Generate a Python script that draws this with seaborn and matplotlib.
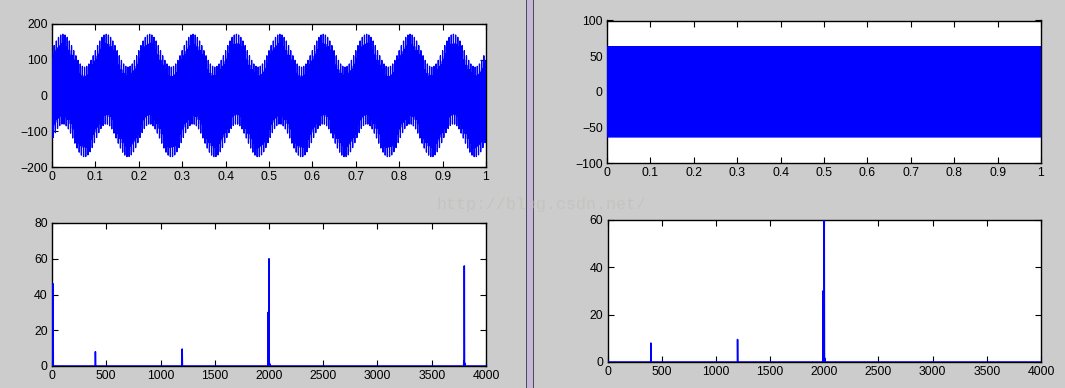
import numpy as np
import pandas as pd
import seaborn as sns
import matplotlib
matplotlib.use("Agg")
import matplotlib.pyplot as plt
from matplotlib.patches import Rectangle

# ---------------- data ----------------
fs = 8000                      # sampling rate (spectrum runs to fs/2 = 4000)
n_samples = 8000               # 1 second of signal

# components of the raw signal (frequency in Hz, amplitude, phase in units of pi)
raw_freqs = [10, 400, 1200, 2000, 3800]
raw_amps = [46, 8, 9.5, 60, 56]
raw_phases = [-0.5, 0.4, 0.2, 0.0, 0.05]

# filtered signal: flat band of about +/-63 around 2000 Hz
filt_freqs = [2000]
filt_amps = [63]
filt_phases = [0.0]

# spectrum peaks of raw signal
left_peak_freq = [5, 10, 400, 1200, 1990, 2000, 3800]
left_peak_amp = [27, 46, 8, 9.5, 30, 60, 56]
left_bump_freq = [1992, 2008, 3795, 3805]
left_bump_amp = [1.2, 1.2, 3.0, 1.5]

# spectrum peaks of filtered signal
right_peak_freq = [400, 1200, 1990, 2000]
right_peak_amp = [8, 9.5, 30, 60]
right_bump_freq = [1992, 2008]
right_bump_amp = [1.5, 1.5]

time_ticks = [0, 0.1, 0.2, 0.3, 0.4, 0.5, 0.6, 0.7, 0.8, 0.9, 1]
time_labels = ["0", "0.1", "0.2", "0.3", "0.4", "0.5", "0.6", "0.7", "0.8", "0.9", "1"]
freq_ticks = [0, 500, 1000, 1500, 2000, 2500, 3000, 3500, 4000]

# ---------------- build series ----------------
t = np.arange(n_samples) / fs
raw = np.zeros_like(t)
for f, a, p in zip(raw_freqs, raw_amps, raw_phases):
    raw += a * np.cos(2 * np.pi * f * t + p * np.pi)
filt = np.zeros_like(t)
for f, a, p in zip(filt_freqs, filt_amps, filt_phases):
    filt += a * np.cos(2 * np.pi * f * t + p * np.pi)

freq = np.arange(0, 4001)
spec_l = np.zeros(len(freq))
for f, a in zip(left_bump_freq, left_bump_amp):
    spec_l[f] = a
for f, a in zip(left_peak_freq, left_peak_amp):
    spec_l[f] = a
spec_r = np.zeros(len(freq))
for f, a in zip(right_bump_freq, right_bump_amp):
    spec_r[f] = a
for f, a in zip(right_peak_freq, right_peak_amp):
    spec_r[f] = a

df_raw = pd.DataFrame({"t": t, "y": raw})
df_filt = pd.DataFrame({"t": t, "y": filt})
df_sl = pd.DataFrame({"f": freq, "y": spec_l})
df_sr = pd.DataFrame({"f": freq, "y": spec_r})

# ---------------- style ----------------
sns.set_style("ticks")
plt.rcParams["font.family"] = ["Liberation Sans", "DejaVu Sans"]
plt.rcParams["font.size"] = 8.8
plt.rcParams["axes.linewidth"] = 1.0
plt.rcParams["xtick.direction"] = "in"
plt.rcParams["ytick.direction"] = "in"
plt.rcParams["xtick.major.size"] = 4
plt.rcParams["ytick.major.size"] = 4
plt.rcParams["xtick.major.width"] = 0.8
plt.rcParams["ytick.major.width"] = 0.8
plt.rcParams["xtick.color"] = "black"
plt.rcParams["ytick.color"] = "black"

W, H = 1065, 388
fig = plt.figure(figsize=(W / 100, H / 100), dpi=100)
fig.patch.set_facecolor("#cccccc")


def ax_px(left, top, right, bottom):
    return fig.add_axes([left / W, 1 - bottom / H, (right - left) / W, (bottom - top) / H])


ax_lt = ax_px(52, 24, 486, 167)
ax_lb = ax_px(52, 223, 486, 366)
ax_rt = ax_px(607, 20.5, 1041, 163)
ax_rb = ax_px(607.5, 219.5, 1041, 362)

blue = "#0000ff"
sns.lineplot(data=df_raw, x="t", y="y", ax=ax_lt, color=blue, linewidth=0.9,
             estimator=None, sort=False)
sns.lineplot(data=df_filt, x="t", y="y", ax=ax_rt, color=blue, linewidth=0.9,
             estimator=None, sort=False)
sns.lineplot(data=df_sl, x="f", y="y", ax=ax_lb, color=blue, linewidth=1.1,
             estimator=None, sort=False)
sns.lineplot(data=df_sr, x="f", y="y", ax=ax_rb, color=blue, linewidth=1.1,
             estimator=None, sort=False)

ax_lt.set_xlim(0, 1)
ax_lt.set_ylim(-200, 200)
ax_lt.set_yticks([-200, -100, 0, 100, 200])
ax_rt.set_xlim(0, 1)
ax_rt.set_ylim(-100, 100)
ax_rt.set_yticks([-100, -50, 0, 50, 100])
for ax in (ax_lt, ax_rt):
    ax.set_xticks(time_ticks)
    ax.set_xticklabels(time_labels)

ax_lb.set_xlim(0, 4000)
ax_lb.set_ylim(0, 80)
ax_lb.set_yticks([0, 20, 40, 60, 80])
ax_rb.set_xlim(0, 4000)
ax_rb.set_ylim(0, 60)
ax_rb.set_yticks([0, 20, 40, 60])
for ax in (ax_lb, ax_rb):
    ax.set_xticks(freq_ticks)

for ax in (ax_lt, ax_lb, ax_rt, ax_rb):
    ax.set_facecolor("white")
    ax.set_xlabel("")
    ax.set_ylabel("")
    for s in ax.spines.values():
        s.set_visible(True)
        s.set_color("black")
        s.set_zorder(1)
    ax.tick_params(top=True, right=True, pad=3, labelsize=8.8, labelcolor="black")
    for ln in ax.get_lines():
        ln.set_zorder(3)

# window separator
fig.patches.append(Rectangle((526 / W, 0), 8 / W, 1, transform=fig.transFigure,
                             facecolor="#c8b8d8", edgecolor="none", zorder=5))
fig.patches.append(Rectangle((526 / W, 0), 1 / W, 1, transform=fig.transFigure,
                             facecolor="#4c4c5c", edgecolor="none", zorder=6))
fig.patches.append(Rectangle((533 / W, 0), 1 / W, 1, transform=fig.transFigure,
                             facecolor="#4c4c5c", edgecolor="none", zorder=6))

# faint watermark
fig.text(541 / W, 1 - 205 / H, "http://blog.csdn.net/", ha="center", va="center",
         fontsize=12, family=["Liberation Mono", "DejaVu Sans Mono"],
         color="#bdbdb6", alpha=0.55, zorder=10)

fig.savefig("out.png", dpi=100, facecolor=fig.get_facecolor())
